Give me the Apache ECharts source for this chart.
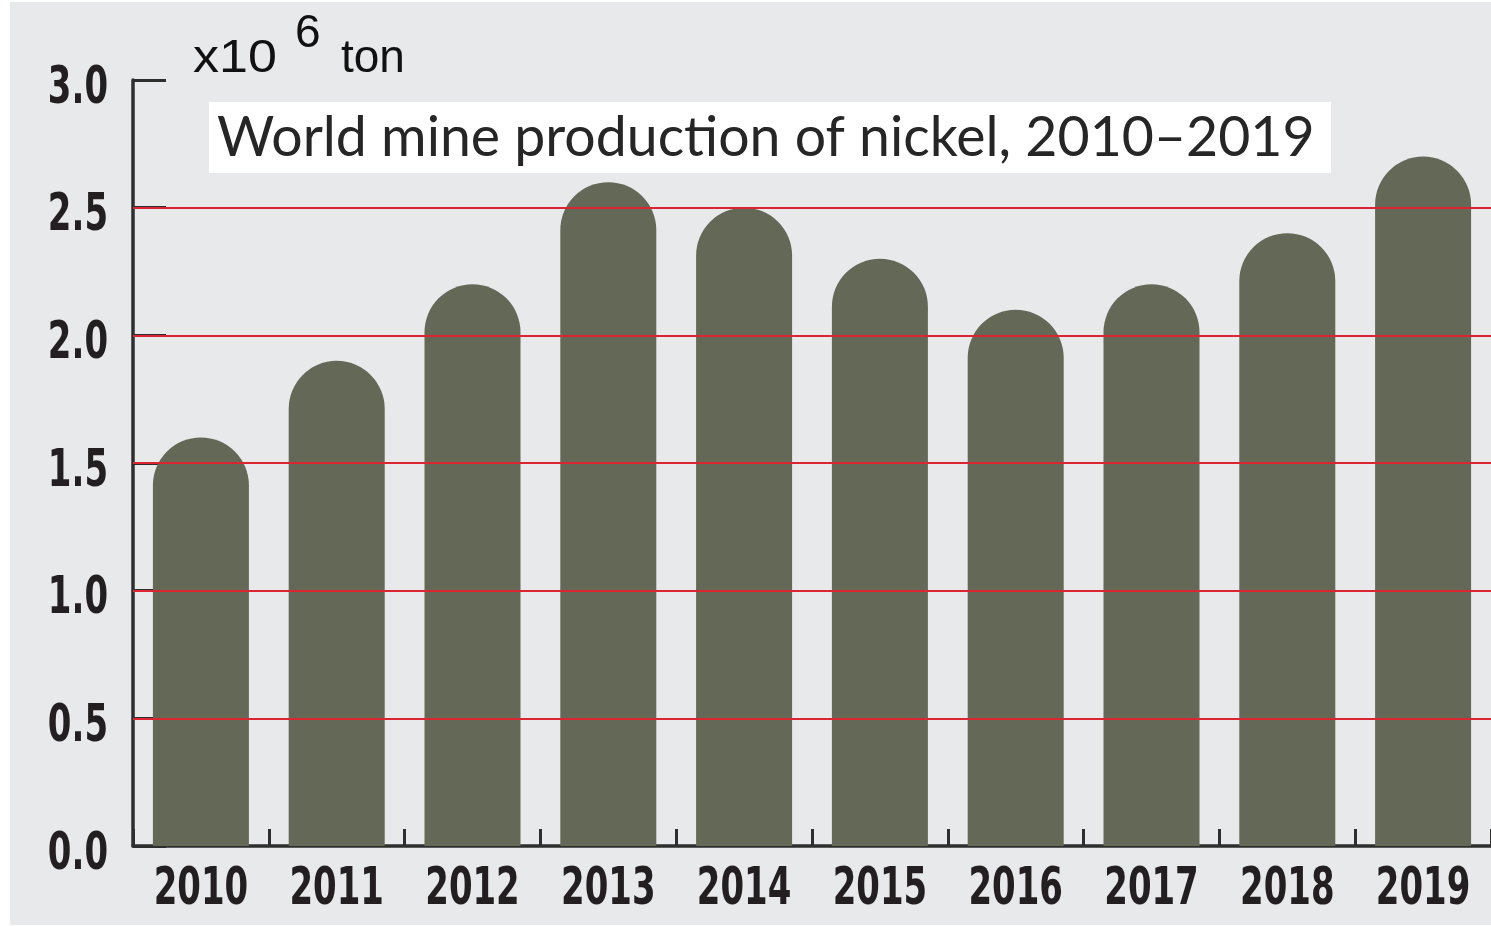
<!DOCTYPE html>
<html>
<head>
<meta charset="utf-8">
<script src="https://cdn.jsdelivr.net/npm/echarts@6/dist/echarts.min.js"></script>
<style>
  html, body { margin: 0; padding: 0; background: #ffffff; }
  #bg { position: absolute; left: 10px; top: 2px; width: 1481px; height: 923px; background: #e8e9eb; }
  #chart { position: absolute; left: 0; top: 0; width: 1491px; height: 926px; }
</style>
</head>
<body>
<div id="bg"></div>
<div id="chart"></div>
<script>
const years = ['2010','2011','2012','2013','2014','2015','2016','2017','2018','2019'];
const production = [1.60, 1.90, 2.20, 2.60, 2.50, 2.30, 2.10, 2.20, 2.40, 2.70];
const yTickValues = [0.0, 0.5, 1.0, 1.5, 2.0, 2.5, 3.0];
const gridValues = [0.5, 1.0, 1.5, 2.0, 2.5];
const titleText = 'World mine production of nickel, 2010\u20132019';

const labelFont = '"DejaVu Sans Condensed", "DejaVu Sans", sans-serif';
const labelSize = 51;
const labelScaleX = 0.74;
const labelColor = '#231f20';
const unitFont = '"Liberation Sans", Arial, sans-serif';

const chart = echarts.init(document.getElementById('chart'));
chart.setOption({
  backgroundColor: 'transparent',
  animation: false,
  grid: { left: 133, right: 0, top: 80, bottom: 80 },
  xAxis: {
    type: 'category',
    data: years,
    axisLine: { show: true, lineStyle: { color: '#2e2e2e', width: 3.5 } },
    axisTick: { show: true, inside: true, interval: 0, alignWithLabel: false, length: 17, lineStyle: { color: '#2e2e2e', width: 3 } },
    axisLabel: { show: false, interval: 0 },
    splitLine: { show: false }
  },
  yAxis: {
    type: 'value',
    min: 0, max: 3, interval: 0.5,
    axisLine: { show: true, lineStyle: { color: '#2e2e2e', width: 3.5 } },
    axisTick: { show: true, inside: true, length: 33, lineStyle: { color: '#2e2e2e', width: 3 } },
    axisLabel: { show: false },
    splitLine: { show: false }
  },
  series: [
    {
      type: 'bar',
      data: production,
      barWidth: 96,
      itemStyle: { color: '#646857', borderRadius: [48, 48, 0, 0] },
      markLine: {
        silent: true,
        symbol: ['none', 'none'],
        label: { show: false },
        lineStyle: { color: '#dc2530', width: 2, type: 'solid' },
        data: gridValues.map(v => ({ yAxis: v }))
      }
    },
    {
      type: 'custom',
      silent: true,
      clip: false,
      data: years.map(y => [y, 0]),
      renderItem: function (params, api) {
        const p = api.coord([api.value(0), 0]);
        return {
          type: 'text',
          x: p[0], y: p[1] + 45,
          scaleX: labelScaleX,
          style: {
            text: years[params.dataIndex],
            fontFamily: labelFont, fontWeight: 'bold', fontSize: labelSize,
            fill: labelColor, align: 'center', verticalAlign: 'middle'
          }
        };
      }
    },
    {
      type: 'custom',
      silent: true,
      clip: false,
      data: yTickValues.map(v => [years[0], v]),
      renderItem: function (params, api) {
        const v = api.value(1);
        const p = api.coord([api.value(0), v]);
        const band = api.size([1, 0])[0];
        return {
          type: 'text',
          x: p[0] - band / 2 - 25, y: p[1] + 9.5,
          scaleX: labelScaleX,
          style: {
            text: v.toFixed(1),
            fontFamily: labelFont, fontWeight: 'bold', fontSize: labelSize,
            fill: labelColor, align: 'right', verticalAlign: 'middle'
          }
        };
      }
    }
  ],
  graphic: [
    { type: 'text', x: 193, y: 59, scaleX: 1.13, style: { text: 'x10', fontFamily: unitFont, fontSize: 46, fill: '#111', verticalAlign: 'middle' } },
    { type: 'text', x: 295, y: 34.5, style: { text: '6', fontFamily: unitFont, fontSize: 46, fill: '#111', verticalAlign: 'middle' } },
    { type: 'text', x: 341, y: 59, style: { text: 'ton', fontFamily: unitFont, fontSize: 46, fill: '#111', verticalAlign: 'middle' } },
    { type: 'rect', shape: { x: 209, y: 102, width: 1122, height: 71 }, style: { fill: '#ffffff' } },
    { type: 'text', x: 217, y: 138, style: { text: titleText, fontFamily: 'Lato, "Open Sans", sans-serif', fontSize: 55.4, fill: '#262626', verticalAlign: 'middle' } }
  ]
});
</script>
</body>
</html>
